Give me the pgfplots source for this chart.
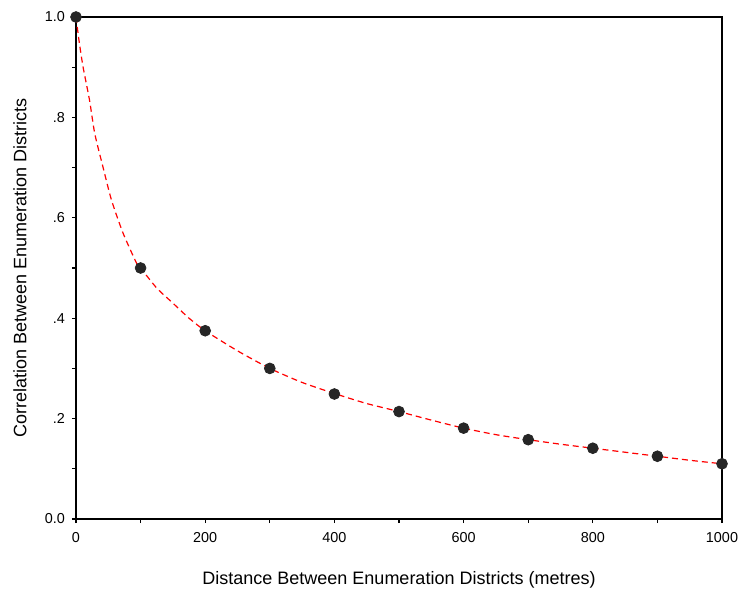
\documentclass[border=0pt]{standalone}
\usepackage{pgfplots}
\pgfplotsset{compat=1.18}
\usepackage{fontspec}
\setmainfont{Liberation Sans}
\begin{document}
\begin{tikzpicture}[x=1pt,y=1pt]
\begin{axis}[
  at={(0,0)}, anchor=south west,
  scale only axis, width=323pt, height=251pt,
  xmin=0, xmax=1000, ymin=0, ymax=1,
  clip=false,
  axis line style={line width=0.6pt},
  tick pos=left, tick align=outside,
  major tick length=2pt, minor tick length=2pt,
  tick style={black, line width=0.6pt},
  xtick={0,200,400,600,800,1000},
  xticklabels={0,200,400,600,800,1000},
  minor xtick={100,300,500,700,900},
  ytick={0,0.2,0.4,0.6,0.8,1.0},
  yticklabels={0.0,.2,.4,.6,.8,1.0},
  minor ytick={0.1,0.3,0.5,0.7,0.9},
  /pgf/number format/assume math mode=true,
  ticklabel style={font=\fontsize{7.2}{8}\selectfont},
  xticklabel style={yshift=-1pt},
  xlabel={Distance Between Enumeration Districts (metres)},
  ylabel={Correlation Between Enumeration Districts},
  label style={font=\fontsize{9}{10}\selectfont},
  xlabel style={at={(axis description cs:0.5,-0.1215)}, anchor=center},
  ylabel style={at={(axis description cs:-0.0867,0.5)}, anchor=center},
]
\addplot[red, line width=0.6pt, dash pattern=on 3pt off 2pt, smooth, tension=0.4] coordinates {
(0,1.0) (5,0.95) (11,0.90) (21,0.834) (29,0.768) (42,0.70) (55,0.635) (73,0.569) (94,0.509)
(100,0.50) (125,0.46) (150,0.43) (175,0.40) (200,0.375) (250,0.335) (300,0.30) (350,0.272)
(400,0.25) (450,0.23) (500,0.214) (550,0.197) (600,0.181) (650,0.168) (700,0.158) (750,0.149)
(800,0.141) (850,0.133) (900,0.125) (950,0.117) (1000,0.11)
};
\addplot[only marks, mark=*, mark size=2.7pt, mark options={fill=black!85, draw=black!85}] coordinates {
(0,1.0) (100,0.50) (200,0.375) (300,0.30) (400,0.249) (500,0.214) (600,0.181) (700,0.158) (800,0.141) (900,0.125) (1000,0.11)
};
\end{axis}
\pgfresetboundingbox
\useasboundingbox (-38,-37.5) rectangle (331.5,259.5);
\end{tikzpicture}
\end{document}
